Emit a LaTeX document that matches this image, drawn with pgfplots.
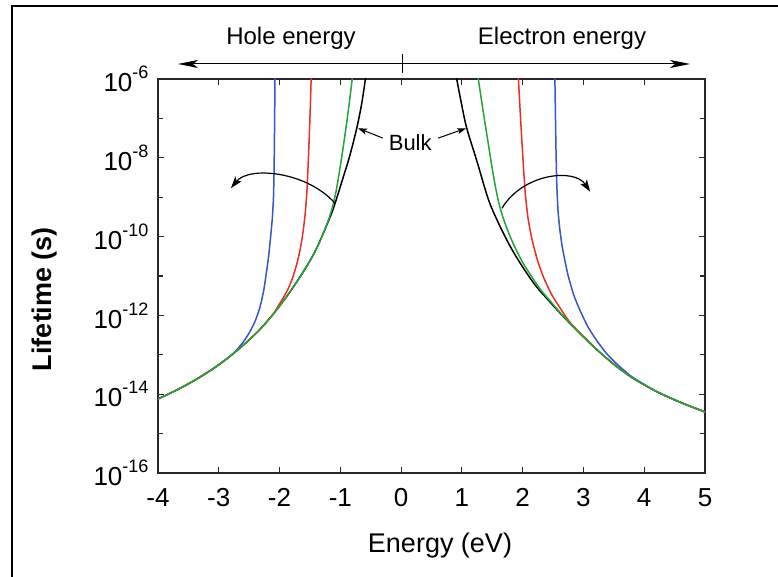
\documentclass[border=0pt]{standalone}
\usepackage{fontspec}
\setmainfont{Liberation Sans}
\usepackage{pgfplots}
\pgfplotsset{compat=1.18}
\usetikzlibrary{arrows.meta}

\definecolor{cblue}{RGB}{55,85,200}
\definecolor{cred}{RGB}{240,45,35}
\definecolor{cgreen}{RGB}{35,165,55}
\definecolor{axgray}{RGB}{40,40,40}

% decade label with a raised exponent, set in the text font
\newcommand{\tenpow}[1]{10\raisebox{0.5em}{\fontsize{18}{18}\selectfont #1}}

\begin{document}
\begin{tikzpicture}[x=1pt,y=1pt]
\useasboundingbox (0,0) rectangle (778,577);

% outer frame
\draw[line width=1.5pt] (12,0) -- (12,571) -- (778,571);

% hole / electron energy arrows
\draw[line width=1pt,-{Stealth[length=20pt,width=8pt,inset=5pt]}] (402,513) -- (178,513);
\draw[line width=1pt,-{Stealth[length=20pt,width=8pt,inset=5pt]}] (402,513) -- (690,513);
\draw[line width=1pt] (402,504) -- (402,523);
\node[font=\fontsize{24}{24}\selectfont] at (291,539) {Hole energy};
\node[font=\fontsize{24}{24}\selectfont] at (562,539) {Electron energy};

% axis titles
\node[font=\fontsize{27}{27}\selectfont] at (440,31) {Energy (eV)};
\node[rotate=90,font=\fontsize{27}{27}\selectfont\bfseries] at (45,278) {Lifetime (s)};

\begin{axis}[
  at={(158pt,104pt)}, anchor=south west,
  scale only axis, width=547pt, height=394pt,
  xmin=-4, xmax=5, ymin=-16, ymax=-6,
  xtick={-4,-3,-2,-1,0,1,2,3,4,5},
  xticklabels={-4,-3,-2,-1,0,1,2,3,4,5},
  ytick={-16,-14,-12,-10,-8,-6},
  yticklabels={\tenpow{-16},\tenpow{-14},\tenpow{-12},\tenpow{-10},\tenpow{-8},\tenpow{-6}},
  minor ytick={-15,-13,-11,-9,-7},
  tick align=inside,
  major tick length=6pt, minor tick length=5pt,
  axis line style={line width=1.3pt,axgray},
  every tick/.style={line width=1.2pt,axgray},
  x tick label style={font=\fontsize{26}{26}\selectfont, yshift=-12pt},
  y tick label style={font=\fontsize{26}{26}\selectfont, xshift=-6pt},
  clip=true,
]

% bulk (black)
\addplot[black, line width=1.5pt, smooth, tension=0.5] coordinates {
(-4.00,-14.12) (-3.70,-13.90) (-3.40,-13.65) (-3.10,-13.36) (-2.85,-13.08)
(-2.60,-12.76) (-2.35,-12.40) (-2.10,-11.96) (-1.85,-11.45) (-1.60,-10.87)
(-1.40,-10.33) (-1.20,-9.62) (-1.10,-9.22) (-0.95,-8.48) (-0.85,-7.98)
(-0.73,-7.25) (-0.65,-6.64) (-0.59,-6.03) (-0.56,-5.70)
};
\addplot[black, line width=1.5pt, smooth, tension=0.5] coordinates {
(0.88,-5.70) (0.915,-6.00) (1.00,-6.68) (1.08,-7.25) (1.25,-8.10)
(1.46,-9.16) (1.74,-10.09) (1.95,-10.65) (2.20,-11.22) (2.45,-11.66)
(2.70,-12.08) (2.95,-12.47) (3.20,-12.84) (3.50,-13.24) (3.80,-13.58)
(4.20,-13.93) (4.60,-14.21) (5.00,-14.45)
};

% blue
\addplot[cblue, line width=1.5pt, smooth, tension=0.4] coordinates {
(-2.07,-5.70) (-2.075,-6.00) (-2.082,-7.20) (-2.09,-8.30) (-2.10,-9.00)
(-2.12,-9.55) (-2.15,-10.05) (-2.18,-10.50) (-2.22,-10.95) (-2.26,-11.36)
(-2.32,-11.78) (-2.40,-12.14) (-2.49,-12.42) (-2.60,-12.68) (-2.72,-12.90)
(-2.85,-13.08) (-3.10,-13.36) (-3.40,-13.65) (-3.70,-13.90) (-4.00,-14.12)
};
\addplot[cblue, line width=1.5pt, smooth, tension=0.4] coordinates {
(2.525,-5.70) (2.53,-6.00) (2.545,-7.50) (2.56,-8.60) (2.58,-9.30)
(2.61,-9.80) (2.65,-10.25) (2.70,-10.65) (2.75,-11.00) (2.84,-11.48)
(2.94,-11.86) (3.07,-12.28) (3.21,-12.62) (3.37,-12.95) (3.54,-13.22)
(3.80,-13.56) (4.20,-13.93) (4.60,-14.21) (5.00,-14.45)
};

% red
\addplot[cred, line width=1.5pt, smooth, tension=0.4] coordinates {
(-1.47,-5.70) (-1.48,-6.00) (-1.50,-7.00) (-1.525,-8.00) (-1.55,-8.85)
(-1.58,-9.45) (-1.62,-9.95) (-1.66,-10.32) (-1.71,-10.66) (-1.78,-11.02)
(-1.86,-11.33) (-1.95,-11.58) (-2.05,-11.83) (-2.10,-11.96) (-2.35,-12.40)
(-2.60,-12.76) (-2.85,-13.08) (-3.10,-13.36) (-3.40,-13.65) (-3.70,-13.90)
(-4.00,-14.12)
};
\addplot[cred, line width=1.5pt, smooth, tension=0.4] coordinates {
(1.92,-5.70) (1.93,-6.00) (1.96,-6.85) (1.99,-7.65) (2.02,-8.40)
(2.05,-9.02) (2.09,-9.55) (2.15,-10.05) (2.24,-10.58) (2.34,-11.02)
(2.47,-11.45) (2.61,-11.80) (2.77,-12.16) (2.94,-12.44) (3.10,-12.68)
(3.27,-12.94) (3.50,-13.24) (3.80,-13.58) (4.20,-13.93) (4.60,-14.21)
(5.00,-14.45)
};

% green
\addplot[cgreen, line width=1.5pt, smooth, tension=0.5] coordinates {
(-4.00,-14.12) (-3.70,-13.90) (-3.40,-13.65) (-3.10,-13.36) (-2.85,-13.08)
(-2.60,-12.76) (-2.35,-12.40) (-2.10,-11.96) (-1.85,-11.45) (-1.60,-10.87)
(-1.40,-10.33) (-1.30,-9.99) (-1.20,-9.60) (-1.13,-9.25) (-1.07,-8.85)
(-1.01,-8.30) (-0.95,-7.70) (-0.89,-7.05) (-0.84,-6.45) (-0.81,-6.07)
(-0.79,-5.80)
};
\addplot[cgreen, line width=1.5pt, smooth, tension=0.5] coordinates {
(1.25,-5.80) (1.27,-6.00) (1.35,-6.82) (1.43,-7.60) (1.50,-8.28)
(1.56,-8.80) (1.62,-9.22) (1.70,-9.62) (1.80,-10.02) (1.90,-10.36)
(2.01,-10.68) (2.15,-11.02) (2.30,-11.36) (2.45,-11.63) (2.60,-11.90)
(2.70,-12.07) (2.95,-12.47) (3.20,-12.84) (3.50,-13.24) (3.80,-13.58)
(4.20,-13.93) (4.60,-14.21) (5.00,-14.45)
};

% bulk label
\node[font=\fontsize{22}{22}\selectfont] at (axis cs:0.15,-7.62) {Bulk};
\draw[line width=1pt,-{Stealth[length=9pt,width=6pt,inset=2pt]}] (axis cs:-0.30,-7.50) -- (axis cs:-0.71,-7.25);
\draw[line width=1pt,-{Stealth[length=9pt,width=6pt,inset=2pt]}] (axis cs:0.61,-7.50) -- (axis cs:1.07,-7.25);

% curved arrows showing the shift away from the bulk curve
\draw[line width=1.2pt,-{Stealth[length=12pt,width=8pt,inset=3pt]}]
  (axis cs:-1.09,-9.15) .. controls (axis cs:-1.55,-8.35) and (axis cs:-2.50,-8.20) .. (axis cs:-2.80,-8.77);
\draw[line width=1.2pt,-{Stealth[length=12pt,width=8pt,inset=3pt]}]
  (axis cs:1.66,-9.28) .. controls (axis cs:2.00,-8.40) and (axis cs:2.85,-8.25) .. (axis cs:3.11,-8.86);
\end{axis}
\end{tikzpicture}
\end{document}
